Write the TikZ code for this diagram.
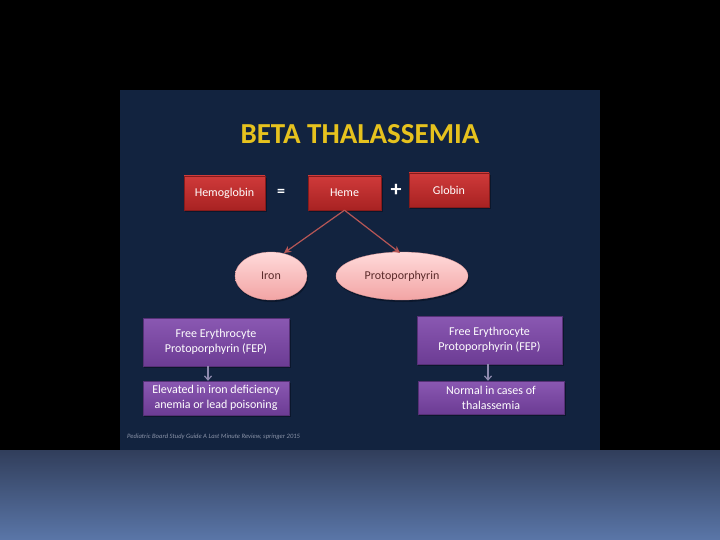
\documentclass[tikz,border=0pt]{standalone}
\usepackage{fontspec}
\setmainfont{Carlito}
\usetikzlibrary{arrows.meta,shapes.geometric}
\definecolor{slidebg}{HTML}{12233F}
\definecolor{titleyel}{HTML}{E6C21E}
\definecolor{redtop}{HTML}{CF3A3A}
\definecolor{redbot}{HTML}{A82222}
\definecolor{pinktop}{HTML}{FFDADA}
\definecolor{pinkbot}{HTML}{F2A4A4}
\definecolor{purtop}{HTML}{8A58B2}
\definecolor{purbot}{HTML}{6C3C94}
\definecolor{arrred}{HTML}{B65656}
\definecolor{arrgrey}{HTML}{8E8AAE}
\definecolor{inkbrown}{HTML}{5A2A2A}
\definecolor{bandtop}{HTML}{313E5B}
\definecolor{bandbot}{HTML}{5A76A8}
\definecolor{citegrey}{HTML}{8A93A8}
\definecolor{shadowc}{HTML}{0A1528}
\tikzset{
  redbox/.style={rectangle, top color=redtop, bottom color=redbot, draw=redbot!80!black, line width=0.4pt,
    text=white, font=\fontsize{12}{14}\selectfont, inner sep=0pt},
  pinkell/.style={ellipse, top color=pinktop, bottom color=pinkbot, draw=pinkbot!90!black, line width=0.3pt, text=inkbrown,
    font=\fontsize{12}{14}\selectfont, inner sep=0pt},
  purbox/.style={rectangle, top color=purtop, bottom color=purbot, draw=purbot!80!black, line width=0.4pt,
    text=white, font=\fontsize{12}{15}\selectfont, align=center, inner sep=0pt},
  redarrow/.style={draw=arrred, line width=1.2pt, -{Stealth[length=7pt,width=7pt]}},
  greyarrow/.style={draw=arrgrey, line width=1.2pt, -{Straight Barb[length=4pt,width=7pt]}},
  shadowfill/.style={fill=shadowc, opacity=0.8},
}
\begin{document}
\begin{tikzpicture}[x=1pt,y=-1pt]
\useasboundingbox (0,0) rectangle (720,540);
\fill[black] (0,0) rectangle (720,540);
\fill[slidebg] (120,90) rectangle (600,450);
\shade[top color=bandtop, bottom color=bandbot] (0,450) rectangle (720,540);

\node[text=titleyel, font=\fontsize{29}{32}\bfseries\selectfont] (title) at (360,134) {BETA THALASSEMIA};

% shadows
\fill[shadowfill] (185,178) rectangle (267,212);
\fill[shadowfill] (309,178) rectangle (383,212);
\fill[shadowfill] (410,175) rectangle (491,209);
\fill[shadowfill] (272,278) ellipse (36 and 24);
\fill[shadowfill] (403,278) ellipse (66 and 24);
\fill[shadowfill] (144,320) rectangle (291,368);
\fill[shadowfill] (144,383) rectangle (291,417);
\fill[shadowfill] (418,318) rectangle (564,366);
\fill[shadowfill] (419,383) rectangle (566,416);

\node[redbox, minimum width=81pt, minimum height=34pt] (hb) at (224.5,193) {Hemoglobin};
\node[text=white, font=\fontsize{16}{16}\bfseries\selectfont] (eq) at (281,193) {=};
\node[redbox, minimum width=73pt, minimum height=34pt] (heme) at (344.5,193) {Heme};
\node[text=white, font=\fontsize{22}{22}\bfseries\selectfont] (plus) at (396,190) {+};
\node[redbox, minimum width=80pt, minimum height=34pt] (globin) at (449,190) {Globin};

\node[pinkell, minimum width=72pt, minimum height=48pt] (iron) at (271,276) {Iron};
\node[pinkell, minimum width=132pt, minimum height=48pt] (proto) at (402,276) {Protoporphyrin};

\draw[redarrow] (heme.south) -- (284,253);
\draw[redarrow] (heme.south) -- (400,253);

\node[purbox, minimum width=146pt, minimum height=48pt] (fep1) at (216,342) {Free Erythrocyte\\Protoporphyrin (FEP)};
\node[purbox, minimum width=146pt, minimum height=34pt] (elev) at (216,398) {Elevated in iron deficiency\\anemia or lead poisoning};
\node[purbox, minimum width=145pt, minimum height=48pt] (fep2) at (489.5,340) {Free Erythrocyte\\Protoporphyrin (FEP)};
\node[purbox, minimum width=146pt, minimum height=33pt] (norm) at (491,397.5) {Normal in cases of\\thalassemia};

\draw[greyarrow] ([xshift=-8pt]fep1.south) -- ([xshift=-8pt]elev.north);
\draw[greyarrow] ([xshift=-1.5pt]fep2.south) -- ([xshift=-3pt]norm.north);

\node[anchor=west, text=citegrey, font=\fontsize{6.6}{7}\itshape\selectfont, inner sep=0pt] (cite) at (127,437) {Pediatric Board Study Guide A Last Minute Review, springer 2015};
\end{tikzpicture}
\end{document}
